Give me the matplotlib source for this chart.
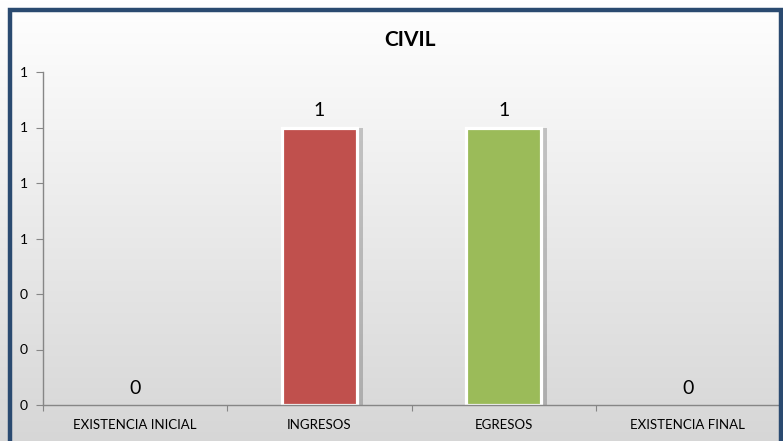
import numpy as np
import matplotlib.pyplot as plt
from matplotlib.patches import Rectangle
from matplotlib.ticker import MultipleLocator, FormatStrFormatter

categorias = ['EXISTENCIA INICIAL', 'INGRESOS', 'EGRESOS', 'EXISTENCIA FINAL']
valores = [0, 1, 1, 0]
colores = ['#4f81bd', '#c0504d', '#9bbb59', '#8064a2']
titulo = 'CIVIL'

plt.rcParams['font.family'] = ['Lato', 'DejaVu Sans']

W, H = 783, 441
fig = plt.figure(figsize=(W / 100, H / 100), dpi=100)

# fondo degradado (blanco arriba, gris abajo)
bg = fig.add_axes([0, 0, 1, 1], zorder=-10)
grad = np.linspace(1.0, 0.84, 256).reshape(-1, 1)
bg.imshow(np.dstack([grad, grad, grad]), aspect='auto', extent=[0, 1, 0, 1])
bg.set_axis_off()

# marco azul
fig.patches.append(Rectangle((10 / W, -20 / H), (781 - 10) / W, (431 + 20) / H,
                             transform=fig.transFigure, fill=False,
                             edgecolor='#2a4a70', linewidth=3.2, zorder=5))

ax = fig.add_axes([43 / W, 36 / H, (780 - 43) / W, (405 - 72) / H])
ax.patch.set_alpha(0)

x = np.arange(len(categorias))
ancho = 0.41
# sombra
sombra = ax.bar(x + 0.03, valores, width=ancho, color='#000000', alpha=0.2,
                linewidth=0, zorder=1)
barras = ax.bar(x, valores, width=ancho, color=colores, edgecolor='white',
                linewidth=2.3, zorder=2)
for b in barras:
    if b.get_height() == 0:
        b.set_linewidth(0)

for xi, v in zip(x, valores):
    ax.annotate(f'{v:g}', (xi, v), xytext=(0, 6), textcoords='offset points',
                ha='center', va='bottom', fontsize=14, color='#000000')

ax.set_xlim(-0.5, len(categorias) - 0.5)
ax.set_ylim(0, 1.2)
ax.yaxis.set_major_locator(MultipleLocator(0.2))
ax.yaxis.set_major_formatter(FormatStrFormatter('%.0f'))

ax.set_xticks(np.arange(len(categorias) + 1) - 0.5)
ax.set_xticklabels([])
ax.set_xticks(x, minor=True)
ax.set_xticklabels(categorias, minor=True)
ax.tick_params(axis='x', which='minor', length=0, pad=10, labelsize=9.5)
ax.tick_params(axis='x', which='major', length=4, color='#868686', direction='out')
ax.tick_params(axis='y', length=5, color='#868686', labelsize=10, pad=6)

for s in ['top', 'right']:
    ax.spines[s].set_visible(False)
for s in ['left', 'bottom']:
    ax.spines[s].set_color('#868686')
    ax.spines[s].set_linewidth(1.0)

fig.text(410 / W, 1 - 40 / H, titulo, ha='center', va='center', fontsize=15,
         fontweight='bold')

fig.savefig('out.png', dpi=100)
